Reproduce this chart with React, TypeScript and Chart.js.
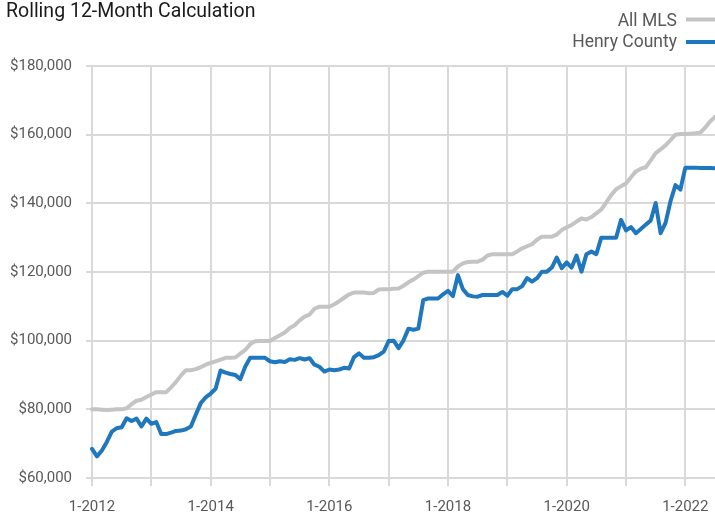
import React, { useEffect, useRef } from "react";
import { Chart, registerables } from "chart.js";

Chart.register(...registerables);

const titleText = "Rolling 12-Month Calculation";
const seriesNames = ["All MLS", "Henry County"];
const seriesColors = ["#c4c4c4", "#1f77be"];
const startYear = 2012;
const monthCount = 127;
const monthLabels: string[] = Array.from(
  { length: monthCount },
  (_, i) => `${(i % 12) + 1}-${startYear + Math.floor(i / 12)}`
);

const allMls = [
  80000, 80000, 79900, 79800, 79900, 80000, 80000,
  80300, 81500, 82500, 82800, 83600, 84300,
  85000, 85000, 85000, 86400, 88000, 89900, 91400,
  91400, 91700, 92300, 93000, 93500, 94000, 94500,
  95000, 95000, 95100, 96200, 97300, 99000, 99800,
  99900, 99900, 99900, 100800, 101600, 102400, 103700,
  104500, 105900, 107000, 107600, 109300, 109900, 109900,
  109900, 110600, 111500, 112500, 113500, 114000, 114000,
  114000, 113800, 113900, 114900, 115000, 115000, 115100,
  115200, 116000, 117000, 117800, 118800, 119800, 120100,
  120100, 120100, 120100, 120100, 120100, 121600, 122500,
  122900, 123000, 123000, 123600, 124800, 125200, 125200,
  125200, 125200, 125200, 126000, 126900, 127500, 128100,
  129400, 130300, 130300, 130300, 130900, 132200, 133000,
  133700, 134700, 135600, 135300, 136000, 137100, 138200,
  140300, 142400, 144100, 145000, 145800, 147600, 149300,
  150100, 150500, 152500, 154600, 155700, 156900, 158400,
  160000, 160200, 160200, 160300, 160400, 160600, 162000,
  163800, 165200,
];

const henryCounty = [
  68500, 66300, 68000, 70500, 73500, 74500, 74800,
  77400, 76600, 77300, 75000, 77300, 75800, 76300,
  72800, 72800, 73200, 73700, 73800, 74200, 75000,
  78500, 81800, 83500, 84600, 86000, 91300, 90700,
  90300, 90000, 88800, 92500, 95000, 95000, 95000,
  95000, 94000, 93700, 94000, 93800, 94600, 94400,
  94900, 94500, 94900, 93000, 92400, 91000, 91600,
  91400, 91600, 92100, 91900, 95200, 96300, 95000,
  95000, 95200, 95800, 96800, 99900, 100000, 97800,
  100100, 103500, 103200, 103500, 111800, 112300, 112300,
  112300, 113500, 114500, 113000, 119100, 115000, 113300,
  112900, 112800, 113300, 113300, 113300, 113300, 114200,
  113100, 115000, 115000, 115900, 118200, 117200, 118200,
  120100, 120100, 121300, 124200, 121100, 122800, 121300,
  124800, 120100, 125200, 126000, 125200, 130000, 130000,
  130000, 130000, 135200, 132100, 133100, 131300, 132500,
  133800, 135000, 140100, 131300, 134300, 140600, 145300,
  144000, 150400, 150400, 150400, 150300, 150300, 150300,
  150200,
];

const yMin = 60000;
const yMax = 180000;
const yStep = 20000;

const textPlugin = {
  id: "customText",
  afterDraw(chart: any) {
    const ctx = chart.ctx as CanvasRenderingContext2D;
    ctx.save();
    ctx.font = "19.5px Roboto";
    ctx.fillStyle = "#1a1a1a";
    ctx.textAlign = "left";
    ctx.textBaseline = "alphabetic";
    ctx.fillText(titleText, 6, 16.7);

    ctx.font = "17.5px Roboto";
    ctx.fillStyle = "#595959";
    ctx.textAlign = "right";
    const baselines = [25.5, 47];
    const lineYs = [19.5, 42];
    seriesNames.forEach((name, i) => {
      ctx.fillText(name, 677, baselines[i]);
      ctx.strokeStyle = seriesColors[i];
      ctx.lineWidth = 4;
      ctx.beginPath();
      ctx.moveTo(686, lineYs[i]);
      ctx.lineTo(715, lineYs[i]);
      ctx.stroke();
    });
    ctx.restore();
  },
};

export default function App() {
  const canvasRef = useRef<HTMLCanvasElement | null>(null);

  useEffect(() => {
    const canvas = canvasRef.current;
    if (!canvas) return;
    const chart = new Chart(canvas, {
      type: "line",
      data: {
        labels: monthLabels,
        datasets: [
          {
            label: seriesNames[0],
            data: allMls,
            borderColor: seriesColors[0],
            backgroundColor: seriesColors[0],
            order: 1,
          },
          {
            label: seriesNames[1],
            data: henryCounty,
            borderColor: seriesColors[1],
            backgroundColor: seriesColors[1],
            order: 0,
          },
        ],
      },
      options: {
        animation: false,
        responsive: false,
        devicePixelRatio: 1,
        layout: { padding: { top: 66, left: 0, right: 0, bottom: 0 } },
        plugins: {
          legend: { display: false },
          title: { display: false },
          tooltip: { enabled: false },
        },
        elements: {
          point: { radius: 0, hoverRadius: 0 },
          line: {
            tension: 0,
            borderWidth: 4,
            borderJoinStyle: "round",
            borderCapStyle: "round",
          },
        },
        scales: {
          x: {
            type: "category",
            offset: false,
            border: { display: false },
            grid: {
              color: (c: any) =>
                c.index % 12 === 0 ? "#d9d9d9" : "rgba(0,0,0,0)",
              lineWidth: 2,
              tickLength: 8,
            },
            ticks: {
              autoSkip: false,
              maxRotation: 0,
              minRotation: 0,
              padding: 12,
              color: "#595959",
              font: { family: "Roboto", size: 15 },
              callback: (_v: any, i: number) =>
                i % 24 === 0 ? monthLabels[i] : "",
            },
            afterFit: (s: any) => {
              s.height = 36;
              s.paddingRight = 0;
              s.paddingLeft = 0;
            },
          },
          y: {
            min: yMin,
            max: yMax,
            border: { display: false },
            grid: { color: "#d9d9d9", lineWidth: 2, tickLength: 6 },
            ticks: {
              stepSize: yStep,
              padding: 14,
              color: "#595959",
              font: { family: "Roboto", size: 15 },
              callback: (v: any) => "$" + Number(v).toLocaleString("en-US"),
            },
            afterFit: (s: any) => {
              s.width = 92;
            },
          },
        },
      },
      plugins: [textPlugin],
    });
    return () => chart.destroy();
  }, []);

  return (
    <div
      style={{
        position: "fixed",
        left: 0,
        top: 0,
        width: 715,
        height: 514,
        background: "#fff",
      }}
    >
      <canvas
        ref={canvasRef}
        width={715}
        height={514}
        style={{ width: 715, height: 514, display: "block" }}
      />
    </div>
  );
}
